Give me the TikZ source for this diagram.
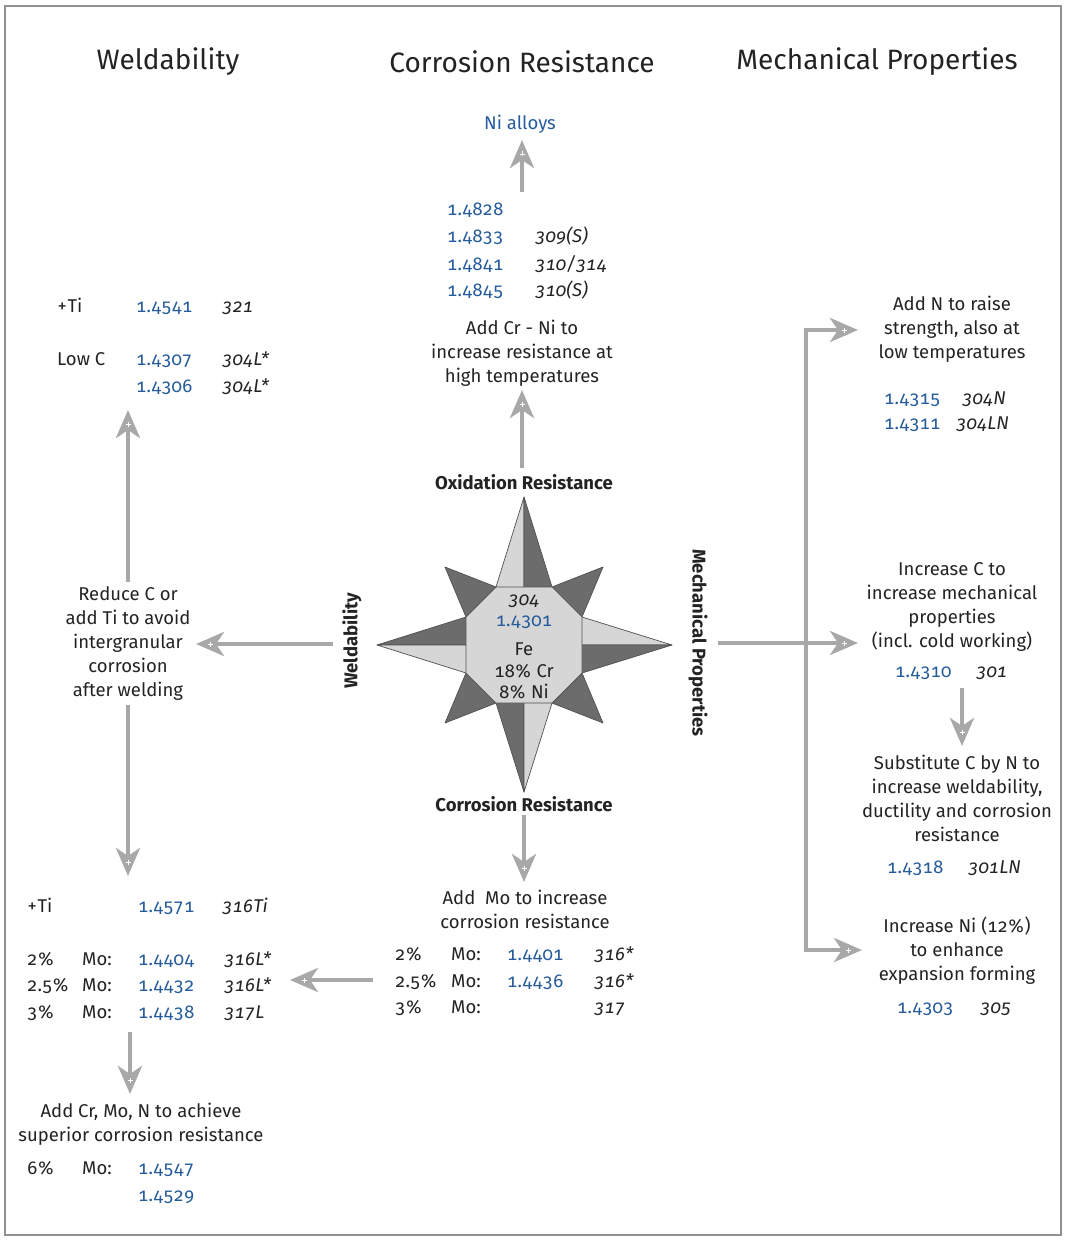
\documentclass[tikz,border=0pt]{standalone}
\usepackage{fontspec}
\setmainfont{Fira Sans}[Numbers={OldStyle,Monospaced}]
\usetikzlibrary{arrows.meta,decorations.markings}
\definecolor{blu}{RGB}{38,92,155}
\definecolor{txt}{RGB}{35,35,35}
\definecolor{arrg}{RGB}{168,168,168}
\definecolor{lightg}{RGB}{214,214,214}
\definecolor{darkg}{RGB}{108,108,108}
\definecolor{lineg}{RGB}{80,80,80}
\definecolor{frameg}{RGB}{145,145,145}
\begin{document}
\begin{tikzpicture}[x=1pt,y=-1pt,
  every node/.style={inner sep=0pt, text=txt, font=\fontsize{18.5}{24}\selectfont},
  cell/.style={anchor=base west},
  bl/.style={text=blu},
  it/.style={font=\fontsize{18.5}{24}\selectfont\itshape},
  title/.style={font=\fontsize{28}{32}\selectfont},
  lbl/.style={font=\fontsize{18.5}{22}\selectfont\bfseries},
  blk/.style={align=center},
  garrow/.style={draw=arrg, line width=4.5pt, line join=miter,
    -{Stealth[length=28pt,width=24pt,inset=8pt]},
    postaction={decorate, decoration={markings, mark=at position 1 with {
      \draw[white, line width=0.9pt, arrows=-] (-14pt,-2.5pt) -- (-14pt,2.5pt) (-16.5pt,0pt) -- (-11.5pt,0pt);}}}},
  lite/.style={fill=lightg, draw=lineg, line width=0.7pt, line join=round},
  dark/.style={fill=darkg, draw=lineg, line width=0.7pt, line join=round}
]
\useasboundingbox (0,0) rectangle (1066,1241);
\draw[frameg, line width=2.5pt] (5,6) rectangle (1061,1235);

% titles
\node[title] (tW) at (168,62) {Weldability};
\node[title] (tC) at (522,62) {Corrosion Resistance};
\node[title] (tM) at (877,62) {Mechanical Properties};

% compass star
\coordinate (C) at (524,645);
\fill[dark] (603,567) -- (552,587) -- (582,617) -- cycle;
\fill[dark] (445,567) -- (496,587) -- (466,617) -- cycle;
\fill[dark] (445,723) -- (496,703) -- (466,673) -- cycle;
\fill[dark] (603,723) -- (552,703) -- (582,673) -- cycle;
% top
\filldraw[lite] (524,497) -- (496,587) -- (C) -- cycle;
\filldraw[dark] (524,497) -- (552,587) -- (C) -- cycle;
% right
\filldraw[lite] (672,645) -- (582,617) -- (C) -- cycle;
\filldraw[dark] (672,645) -- (582,673) -- (C) -- cycle;
% bottom
\filldraw[dark] (524,792) -- (496,703) -- (C) -- cycle;
\filldraw[lite] (524,792) -- (552,703) -- (C) -- cycle;
% left
\filldraw[dark] (377,645) -- (466,617) -- (C) -- cycle;
\filldraw[lite] (377,645) -- (466,673) -- (C) -- cycle;
% octagon
\filldraw[lite] (496,587) -- (552,587) -- (582,617) -- (582,673) -- (552,703) -- (496,703) -- (466,673) -- (466,617) -- cycle;

\node[it, anchor=base] (s304) at (524,605) {304};
\node[bl, anchor=base] (s4301) at (524,626) {1.4301};
\node[anchor=base] (sFe) at (524,655) {Fe};
\node[anchor=base] (sCr) at (524,677) {18\% Cr};
\node[anchor=base] (sNi) at (524,698) {8\% Ni};

\node[lbl] (lOx) at (524,482) {Oxidation Resistance};
\node[lbl] (lCo) at (524,804) {Corrosion Resistance};
\node[lbl, rotate=90] (lWe) at (352,641) {Weldability};
\node[lbl, rotate=-90] (lMe) at (698,643) {Mechanical Properties};

% top column
\node[bl] (niall) at (520,124) {Ni alloys};
\node[cell,bl] (t1) at (447,216) {1.4828};
\node[cell,bl] (t2) at (447,243) {1.4833};
\node[cell,it] (t2b) at (535,243) {309(S)};
\node[cell,bl] (t3) at (447,270) {1.4841};
\node[cell,it] (t3b) at (535,270) {310/314};
\node[cell,bl] (t4) at (447,296) {1.4845};
\node[cell,it] (t4b) at (535,296) {310(S)};
\node[blk] (addcr) at (522,353) {Add Cr - Ni to\\increase resistance at\\high temperatures};

% left column
\node[cell] (lt1) at (57,312) {+Ti};
\node[cell,bl] (lt1b) at (136,312) {1.4541};
\node[cell,it] (lt1c) at (222,312) {321};
\node[cell] (lt2) at (57,365) {Low C};
\node[cell,bl] (lt2b) at (136,365) {1.4307};
\node[cell,it] (lt2c) at (222,365) {304L*};
\node[cell,bl] (lt3b) at (136,392) {1.4306};
\node[cell,it] (lt3c) at (222,392) {304L*};
\node[blk] (reduce) at (128,644) {Reduce C or\\add Ti to avoid\\intergranular\\corrosion\\after welding};

\node[cell] (lb1) at (27,912) {+Ti};
\node[cell,bl] (lb1b) at (138,912) {1.4571};
\node[cell,it] (lb1c) at (222,912) {316Ti};
\node[cell] (lb2) at (27,965) {2\%};
\node[cell] (lb2m) at (82,965) {Mo:};
\node[cell,bl] (lb2b) at (138,965) {1.4404};
\node[cell,it] (lb2c) at (224,965) {316L*};
\node[cell] (lb3) at (27,991) {2.5\%};
\node[cell] (lb3m) at (82,991) {Mo:};
\node[cell,bl] (lb3b) at (138,991) {1.4432};
\node[cell,it] (lb3c) at (224,991) {316L*};
\node[cell] (lb4) at (27,1018) {3\%};
\node[cell] (lb4m) at (82,1018) {Mo:};
\node[cell,bl] (lb4b) at (138,1018) {1.4438};
\node[cell,it] (lb4c) at (224,1018) {317L};
\node[blk] (addcrmo) at (141,1124) {Add Cr, Mo, N to achieve\\superior corrosion resistance};
\node[cell] (lb5) at (27,1174) {6\%};
\node[cell] (lb5m) at (82,1174) {Mo:};
\node[cell,bl] (lb5b) at (138,1174) {1.4547};
\node[cell,bl] (lb6b) at (138,1201) {1.4529};

% bottom center
\node[blk] (addmo) at (525,909) {Add~ Mo to increase\\corrosion resistance};
\node[cell] (bc1) at (395,960) {2\%};
\node[cell] (bc1m) at (451,960) {Mo:};
\node[cell,bl] (bc1b) at (507,960) {1.4401};
\node[cell,it] (bc1c) at (594,960) {316*};
\node[cell] (bc2) at (395,987) {2.5\%};
\node[cell] (bc2m) at (451,987) {Mo:};
\node[cell,bl] (bc2b) at (507,987) {1.4436};
\node[cell,it] (bc2c) at (594,987) {316*};
\node[cell] (bc3) at (395,1013) {3\%};
\node[cell] (bc3m) at (451,1013) {Mo:};
\node[cell,it] (bc3c) at (594,1013) {317};

% right column
\node[blk] (addn) at (952,329) {Add N to raise\\strength, also at\\low temperatures};
\node[cell,bl] (r1) at (884,404) {1.4315};
\node[cell,it] (r1c) at (962,404) {304N};
\node[cell,bl] (r2) at (884,429) {1.4311};
\node[cell,it] (r2c) at (956,429) {304LN};
\node[blk] (incc) at (952,607) {Increase C to\\increase mechanical\\properties\\(incl. cold working)};
\node[cell,bl] (r3) at (895,677) {1.4310};
\node[cell,it] (r3c) at (976,677) {301};
\node[blk] (subst) at (957,798) {Substitute C by N to\\increase weldability,\\ductility and corrosion\\resistance};
\node[cell,bl] (r4) at (887,873) {1.4318};
\node[cell,it] (r4c) at (968,873) {301LN};
\node[blk] (incni) at (957,951) {Increase Ni (12\%)\\to enhance\\expansion forming};
\node[cell,bl] (r5) at (897,1013) {1.4303};
\node[cell,it] (r5c) at (980,1013) {305};

% arrow end points
\coordinate (a1s) at (522,192); \coordinate (a1e) at (522,140);
\coordinate (a2s) at (522,468); \coordinate (a2e) at (522,390);
\coordinate (a3s) at (333,644); \coordinate (a3e) at (196,644);
\coordinate (a4s) at (128,582); \coordinate (a4e) at (128,410);
\coordinate (a5s) at (128,705); \coordinate (a5e) at (128,876);
\coordinate (a6s) at (524,815); \coordinate (a6e) at (524,882);
\coordinate (a7s) at (373,980); \coordinate (a7e) at (290,980);
\coordinate (a8s) at (130,1032); \coordinate (a8e) at (130,1094);
\coordinate (a9s) at (718,643); \coordinate (a9e) at (858,643);
\coordinate (bus) at (806,643);
\coordinate (busT) at (858,330);
\coordinate (busB) at (862,950);
\coordinate (a11s) at (962,688); \coordinate (a11e) at (962,746);

\draw[garrow] (a1s) -- (a1e);
\draw[garrow] (a2s) -- (a2e);
\draw[garrow] (a3s) -- (a3e);
\draw[garrow] (a4s) -- (a4e);
\draw[garrow] (a5s) -- (a5e);
\draw[garrow] (a6s) -- (a6e);
\draw[garrow] (a7s) -- (a7e);
\draw[garrow] (a8s) -- (a8e);
\draw[garrow] (bus) |- (busT);
\draw[garrow] (bus) |- (busB);
\draw[garrow] (a9s) -- (a9e);
\draw[garrow] (a11s) -- (a11e);
\end{tikzpicture}
\end{document}
